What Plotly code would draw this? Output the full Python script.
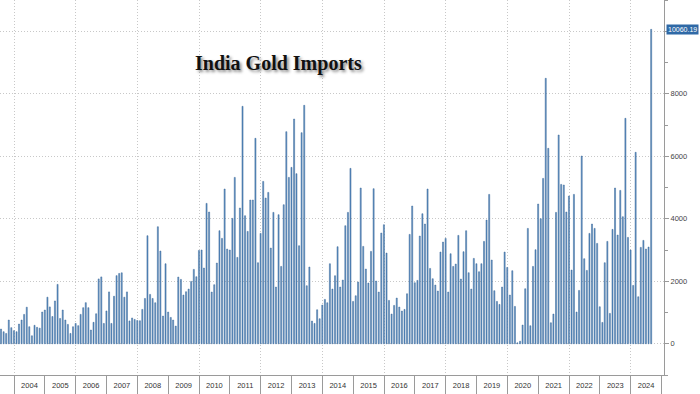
import pandas as pd
import plotly.graph_objects as go

# Monthly India gold imports (USD mn), Jul 2003 .. Aug 2024
start_month = "2003-07-31"
imports_2003 = [470, 385, 330, 760, 515, 420]
imports_2004 = [385, 630, 760, 940, 1170, 545, 255, 590, 525, 500, 1015, 1080]
imports_2005 = [1490, 1180, 870, 1370, 1900, 810, 1080, 760, 620, 330, 545, 650]
imports_2006 = [580, 940, 1155, 1315, 1155, 440, 685, 960, 2075, 2140, 650, 1050]
imports_2007 = [1660, 650, 1520, 2180, 2250, 2270, 1490, 1660, 730, 825, 780, 745]
imports_2008 = [736, 1100, 1450, 3457, 1580, 1450, 1312, 3745, 2966, 886, 2560, 1014]
imports_2009 = [843, 758, 565, 2134, 2060, 1558, 1665, 1750, 1995, 2380, 2145, 2988]
imports_2010 = [3000, 2422, 4492, 4215, 1654, 1889, 2582, 3617, 3372, 4951, 3030, 2998]
imports_2011 = [4012, 5324, 2764, 4343, 7597, 4097, 3596, 4599, 4599, 6573, 2593, 3532]
imports_2012 = [5196, 4663, 4844, 3062, 4204, 1814, 4129, 2475, 4449, 6786, 5324, 5644]
imports_2013 = [7192, 5442, 3137, 6754, 7629, 1857, 2454, 726, 651, 1088, 800, 1238]
imports_2014 = [1419, 1312, 2561, 1750, 2177, 3105, 1814, 2038, 3777, 4204, 5612, 1355]
imports_2015 = [1536, 1974, 4983, 3116, 2390, 1942, 2956, 4962, 2006, 1654, 3542, 3809]
imports_2016 = [2902, 1387, 950, 1227, 1462, 1174, 1046, 1099, 1600, 3500, 4407, 1953]
imports_2017 = [2027, 3446, 4161, 3830, 4951, 2411, 2081, 1878, 1686, 2934, 3254, 3372]
imports_2018 = [1654, 2881, 2475, 2550, 3468, 2070, 2945, 3617, 2273, 1750, 2732, 2561]
imports_2019 = [2305, 2561, 3276, 3959, 4780, 2678, 1697, 1355, 1259, 1814, 2934, 2443]
imports_2020 = [1558, 2337, 1195, 30, 80, 598, 1760, 3692, 576, 2475, 3009, 4471]
imports_2021 = [4001, 5292, 8493, 6253, 672, 950, 4204, 6680, 5100, 5079, 4215, 4727]
imports_2022 = [2358, 4780, 1014, 1707, 6007, 2721, 2347, 3532, 3831, 3692, 3212, 1184]
imports_2023 = [683, 2593, 3276, 971, 3660, 4983, 3478, 4908, 4065, 7213, 3404, 2998]
imports_2024 = [1867, 6125, 1504, 3084, 3308, 3030, 3094, 10060.19]

y_tickvals = [0, 2000, 4000, 6000, 8000, 10000]
y_ticktext = ["0", "2000", "4000", "6000", "8000", ""]
last_label = "10060.19"
title_text = "India Gold Imports"

values = (imports_2003 + imports_2004 + imports_2005 + imports_2006 + imports_2007
          + imports_2008 + imports_2009 + imports_2010 + imports_2011 + imports_2012
          + imports_2013 + imports_2014 + imports_2015 + imports_2016 + imports_2017
          + imports_2018 + imports_2019 + imports_2020 + imports_2021 + imports_2022
          + imports_2023 + imports_2024)
dates = pd.date_range(start_month, periods=len(values), freq=pd.offsets.MonthEnd())

x_range = ["2003-07-19", "2025-01-30"]
font_axis = "Liberation Sans, Arial, sans-serif"
grid_col = "#c8c8c8"
axis_col = "#9a9a9a"

fig = go.Figure()
fig.add_trace(go.Bar(
    x=dates, y=values,
    marker=dict(color="#5b8fc4", line=dict(color="#3a6796", width=0.5)),
    hoverinfo="x+y",
))
# invisible traces hosting the 2-year grid axis and the year-separator axis
for ax in ("x2", "x3"):
    fig.add_trace(go.Scatter(x=dates, y=values, xaxis=ax, mode="lines",
                             line=dict(width=0), opacity=0, hoverinfo="skip",
                             showlegend=False))

fig.update_layout(
    width=700, height=394,
    margin=dict(l=0, r=36, t=0, b=19, autoexpand=False),
    paper_bgcolor="white", plot_bgcolor="white",
    showlegend=False, bargap=0.55,
    xaxis=dict(
        type="date", range=x_range, automargin=False,
        dtick="M12", tick0="2004-01-01", tickformat="%Y",
        ticklabelmode="period", ticks="", ticklabelstandoff=3,
        showgrid=False, zeroline=False,
        showline=True, linecolor=axis_col, linewidth=1,
        tickfont=dict(family=font_axis, size=7.5, color="#333333"),
    ),
    xaxis2=dict(
        type="date", range=x_range, overlaying="x", anchor="y", side="bottom",
        automargin=False, dtick="M24", tick0="2004-01-01",
        ticks="", showgrid=True, gridcolor=grid_col, griddash="1px,2px", gridwidth=1,
        showticklabels=False, showline=False, zeroline=False,
    ),
    xaxis3=dict(
        type="date", range=x_range, overlaying="x", anchor="y", side="bottom",
        automargin=False, dtick="M12", tick0="2004-01-01",
        ticks="outside", ticklen=19, tickcolor=axis_col, tickwidth=1,
        showgrid=False, showticklabels=False, showline=False, zeroline=False,
    ),
    yaxis=dict(
        side="right", range=[-1000, 11000], automargin=False,
        tickvals=y_tickvals, ticktext=y_ticktext,
        ticks="outside", ticklen=4, tickcolor=axis_col,
        minor=dict(dtick=1000, tick0=0, ticks="outside", ticklen=3, tickcolor=axis_col),
        showgrid=True, gridcolor=grid_col, griddash="1px,2px", gridwidth=1,
        zeroline=False,
        showline=True, linecolor=axis_col, linewidth=1,
        tickfont=dict(family=font_axis, size=7.5, color="#444444"),
    ),
    annotations=[
        dict(text="<b>" + title_text + "</b>", xref="paper", yref="paper",
             x=0.419, y=0.832, xanchor="center", yanchor="middle", showarrow=False,
             font=dict(family="Liberation Serif, Times New Roman, serif", size=20,
                       color="#111111", shadow="2px 2px 3px #8a8a8a")),
        dict(text=last_label, xref="paper", yref="y", x=1.0, y=values[-1],
             xanchor="left", yanchor="middle", xshift=2, showarrow=False,
             bgcolor="#2f69a6", borderpad=1,
             font=dict(family=font_axis, size=7, color="white")),
    ],
)

fig.write_html("out.html", config={"displayModeBar": False},
               post_script="document.body.style.margin='0';")
